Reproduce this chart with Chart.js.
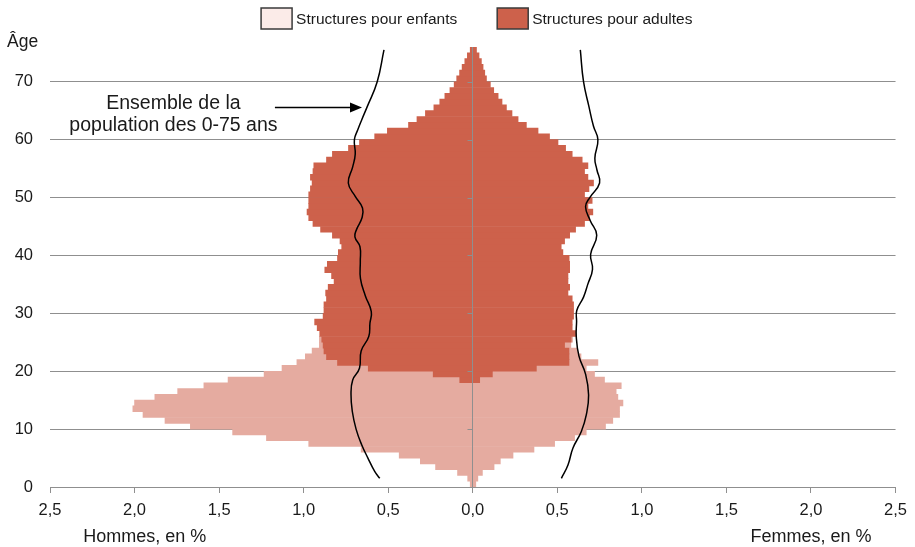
<!DOCTYPE html>
<html lang="fr">
<head>
<meta charset="utf-8">
<title>Pyramide des âges - structures pour enfants et pour adultes</title>
<script src="https://cdn.jsdelivr.net/npm/chart.js@4.4.1/dist/chart.umd.min.js"></script>
<style>
  html, body { margin: 0; padding: 0; background: #fff; }
  #wrap { width: 915px; height: 547px; }
</style>
</head>
<body>
<div id="wrap"><canvas id="pyramide" width="915" height="547"></canvas></div>
<script>
/* --- Données (en % de la population) --- */
const ages = [
    0, 1, 2, 3, 4, 5, 6, 7, 8, 9, 10, 11, 12, 13, 14, 15, 16, 17, 18, 19,
    20, 21, 22, 23, 24, 25, 26, 27, 28, 29, 30, 31, 32, 33, 34, 35, 36, 37, 38, 39,
    40, 41, 42, 43, 44, 45, 46, 47, 48, 49, 50, 51, 52, 53, 54, 55, 56, 57, 58, 59,
    60, 61, 62, 63, 64, 65, 66, 67, 68, 69, 70, 71, 72, 73, 74, 75
];

// Hommes - structures pour enfants
const enfantsHommes = [
    0.015, 0.03, 0.09, 0.22, 0.31, 0.435, 0.66, 0.97, 1.22, 1.42,
    1.67, 1.82, 1.95, 2.01, 2.0, 1.88, 1.745, 1.59, 1.37, 1.0,
    0.51, 0.24, 0.125, 0.07, 0.022, 0.014, 0, 0, 0, 0,
    0, 0, 0, 0, 0, 0, 0, 0, 0, 0,
    0, 0, 0, 0, 0, 0, 0, 0, 0, 0,
    0, 0, 0, 0, 0, 0, 0, 0, 0, 0,
    0, 0, 0, 0, 0, 0, 0, 0, 0, 0,
    0, 0, 0, 0, 0, 0
];
// Hommes - structures pour adultes
const adultesHommes = [
    0, 0, 0, 0, 0, 0, 0, 0, 0, 0,
    0, 0, 0, 0, 0, 0, 0, 0, 0.077, 0.234,
    0.618, 0.80, 0.865, 0.88, 0.885, 0.893, 0.905, 0.92, 0.935, 0.885,
    0.88, 0.88, 0.865, 0.87, 0.855, 0.82, 0.835, 0.875, 0.86, 0.80,
    0.795, 0.775, 0.785, 0.83, 0.90, 0.945, 0.97, 0.98, 0.97, 0.97,
    0.97, 0.96, 0.95, 0.96, 0.945, 0.94, 0.865, 0.83, 0.735, 0.67,
    0.58, 0.505, 0.38, 0.33, 0.28, 0.23, 0.195, 0.165, 0.135, 0.11,
    0.095, 0.078, 0.063, 0.047, 0.032, 0.015
];
// Femmes - structures pour enfants
const enfantsFemmes = [
    0.018, 0.03, 0.057, 0.126, 0.163, 0.238, 0.362, 0.484, 0.602, 0.671,
    0.785, 0.828, 0.868, 0.868, 0.888, 0.858, 0.848, 0.878, 0.738, 0.604,
    0.295, 0.171, 0.071, 0.051, 0.037, 0.008, 0, 0, 0, 0,
    0, 0, 0, 0, 0, 0, 0, 0, 0, 0,
    0, 0, 0, 0, 0, 0, 0, 0, 0, 0,
    0, 0, 0, 0, 0, 0, 0, 0, 0, 0,
    0, 0, 0, 0, 0, 0, 0, 0, 0, 0,
    0, 0, 0, 0, 0, 0
];
// Femmes - structures pour adultes
const adultesFemmes = [
    0, 0, 0, 0, 0, 0, 0, 0, 0, 0,
    0, 0, 0, 0, 0, 0, 0, 0, 0.041, 0.116,
    0.376, 0.569, 0.569, 0.569, 0.543, 0.582, 0.608, 0.588, 0.588, 0.596,
    0.596, 0.596, 0.588, 0.563, 0.573, 0.563, 0.563, 0.573, 0.573, 0.57,
    0.533, 0.523, 0.543, 0.573, 0.608, 0.661, 0.69, 0.71, 0.681, 0.706,
    0.661, 0.687, 0.714, 0.681, 0.661, 0.681, 0.647, 0.588, 0.549, 0.504,
    0.454, 0.386, 0.317, 0.268, 0.232, 0.199, 0.173, 0.15, 0.124, 0.104,
    0.081, 0.071, 0.061, 0.051, 0.037, 0.022
];

// Ensemble de la population des 0-75 ans (courbe)
const ensembleAgesHommes = [1.5, 2.7, 5, 7.3, 10, 13, 16, 18.5, 20.5, 23.5, 26, 28.3, 30.3, 33, 36, 39, 41.5, 43.2, 44.5, 46.5, 48.2, 50.2, 52.5, 55.3, 57.5, 60, 61.7, 63.4, 65.7, 70, 75.5];
const ensembleHommes = [0.55, 0.58, 0.62, 0.657, 0.69, 0.712, 0.72, 0.71, 0.67, 0.66, 0.615, 0.608, 0.60, 0.635, 0.664, 0.665, 0.667, 0.697, 0.687, 0.655, 0.652, 0.695, 0.736, 0.71, 0.695, 0.70, 0.68, 0.657, 0.624, 0.565, 0.525];
const ensembleAgesFemmes = [1.5, 3.8, 6.7, 9.6, 12.4, 15.9, 19.5, 22.6, 26, 28.6, 30.5, 32.8, 35, 37.6, 40.2, 43.5, 46, 48.4, 50, 52.5, 54.8, 56.8, 60, 62.3, 65.7, 70, 75.5];
const ensembleFemmes = [0.524, 0.563, 0.592, 0.642, 0.671, 0.685, 0.667, 0.628, 0.612, 0.614, 0.615, 0.655, 0.68, 0.708, 0.697, 0.733, 0.695, 0.667, 0.692, 0.75, 0.734, 0.722, 0.74, 0.714, 0.687, 0.655, 0.636];

const labelEnfants = 'Structures pour enfants';
const labelAdultes = 'Structures pour adultes';

/* --- Styles --- */
const FONT = '"Liberation Sans", Arial, sans-serif';
const TXT = '#1a1a1a';
const GRID = '#8f8f8f';
const C_ENFANTS = '#e5aba0';
const C_ENFANTS_LEG = '#fbebe8';
const C_ADULTES = '#cd614b';

Chart.defaults.font.family = FONT;
Chart.defaults.font.size = 16.5;
Chart.defaults.color = TXT;

/* --- Helpers --- */
function barSet(label, values, sign, color) {
    return {
        type: 'bar',
        label,
        indexAxis: 'y',
        stack: 'pyramide',
        order: 2,
        // pas de barre pour les âges vides
        data: values.map((v, i) => ({ x: v > 0 ? sign * v : null, y: ages[i] + 0.5 })),
        backgroundColor: color,
        borderWidth: 0,
        categoryPercentage: 1,
        barPercentage: 1
    };
}

function lineSet(agesList, values, sign) {
    return {
        type: 'line',
        label: 'Ensemble de la population des 0-75 ans',
        indexAxis: 'y',
        order: 0,
        data: values.map((v, i) => ({ x: sign * v, y: agesList[i] })),
        borderColor: '#000',
        borderWidth: 1.5,
        pointRadius: 0,
        tension: 0.45,
        fill: false
    };
}

const fmt = (v) => Math.abs(v).toFixed(1).replace('.', ',');

/* --- Textes, légende, axe central --- */
const decor = {
    id: 'decor',
    afterDatasetsDraw(chart) {
        const { ctx, chartArea: a, scales: { x, y } } = chart;
        const x0 = Math.floor(x.getPixelForValue(0)) + 0.5;
        ctx.save();
        ctx.strokeStyle = GRID;
        ctx.lineWidth = 1;
        ctx.beginPath();
        ctx.moveTo(x0, a.top);
        ctx.lineTo(x0, a.bottom);
        y.ticks.forEach(t => {
            const py = Math.round(y.getPixelForValue(t.value)) + 0.5;
            ctx.moveTo(x0 - 5, py);
            ctx.lineTo(x0, py);
        });
        ctx.stroke();
        ctx.restore();
    },
    afterDraw(chart) {
        const { ctx, chartArea: a, scales: { x, y } } = chart;
        ctx.save();
        ctx.fillStyle = TXT;
        ctx.textBaseline = 'middle';

        // titre de l'axe vertical
        ctx.font = `17.5px ${FONT}`;
        ctx.textAlign = 'left';
        ctx.fillText('Âge', a.left - 43, a.top - 5);

        // titres de l'axe horizontal
        ctx.font = `18px ${FONT}`;
        ctx.textAlign = 'center';
        ctx.fillText('Hommes, en %', x.getPixelForValue(-1.94), a.bottom + 50);
        ctx.fillText('Femmes, en %', x.getPixelForValue(2.0), a.bottom + 50);

        // annotation + flèche
        ctx.font = `19.5px ${FONT}`;
        ctx.fillText('Ensemble de la', x.getPixelForValue(-1.77), y.getPixelForValue(66.3));
        ctx.fillText('population des 0-75 ans', x.getPixelForValue(-1.77), y.getPixelForValue(62.5));
        const ay = Math.round(y.getPixelForValue(65.6)) + 0.5;
        const ax1 = x.getPixelForValue(-1.17);
        const ax2 = x.getPixelForValue(-0.655);
        ctx.strokeStyle = '#000';
        ctx.lineWidth = 1.5;
        ctx.beginPath();
        ctx.moveTo(ax1, ay);
        ctx.lineTo(ax2 - 10, ay);
        ctx.stroke();
        ctx.fillStyle = '#000';
        ctx.beginPath();
        ctx.moveTo(ax2, ay);
        ctx.lineTo(ax2 - 12, ay - 5);
        ctx.lineTo(ax2 - 12, ay + 5);
        ctx.closePath();
        ctx.fill();

        // légende
        const items = [
            { text: labelEnfants, fill: C_ENFANTS_LEG },
            { text: labelAdultes, fill: C_ADULTES }
        ];
        const bw = 31, bh = 21, gap = 4, spacing = 40;
        ctx.font = `15.5px ${FONT}`;
        const widths = items.map(it => bw + gap + ctx.measureText(it.text).width);
        const total = widths[0] + spacing + widths[1];
        let lx = (a.left + a.right) / 2 + 4 - total / 2;
        const ly = 8;
        items.forEach((it, i) => {
            ctx.fillStyle = it.fill;
            ctx.fillRect(lx, ly, bw, bh);
            ctx.strokeStyle = '#3a3a3a';
            ctx.lineWidth = 1.5;
            ctx.strokeRect(lx, ly, bw, bh);
            ctx.fillStyle = TXT;
            ctx.textAlign = 'left';
            ctx.fillText(it.text, lx + bw + gap, ly + bh / 2 + 1);
            lx += widths[i] + spacing;
        });
        ctx.restore();
    }
};

/* --- Création --- */
new Chart(document.getElementById('pyramide').getContext('2d'), {
    data: {
        datasets: [
            lineSet(ensembleAgesHommes, ensembleHommes, -1),
            lineSet(ensembleAgesFemmes, ensembleFemmes, 1),
            barSet(labelAdultes, adultesHommes, -1, C_ADULTES),
            barSet(labelAdultes, adultesFemmes, 1, C_ADULTES),
            barSet(labelEnfants, enfantsHommes, -1, C_ENFANTS),
            barSet(labelEnfants, enfantsFemmes, 1, C_ENFANTS)
        ]
    },
    options: {
        responsive: false,
        animation: false,
        devicePixelRatio: 1,
        events: [],
        layout: { padding: { top: 47, right: 18, bottom: 0, left: 0 } },
        plugins: {
            legend: { display: false },
            tooltip: { enabled: false }
        },
        scales: {
            x: {
                type: 'linear',
                min: -2.5,
                max: 2.5,
                afterFit: (s) => { s.height = 60; },
                ticks: { stepSize: 0.5, padding: 8, callback: fmt, color: TXT, maxRotation: 0 },
                grid: { drawOnChartArea: false, drawTicks: true, tickLength: 6, color: GRID },
                border: { display: true, color: GRID }
            },
            y: {
                type: 'linear',
                min: 0,
                max: 76,
                offset: false,
                afterFit: (s) => { s.width = 50; },
                ticks: { stepSize: 10, includeBounds: false, padding: 17, color: TXT },
                grid: { color: GRID, drawTicks: false, offset: false },
                border: { display: false }
            }
        }
    },
    plugins: [decor]
});
</script>
</body>
</html>
